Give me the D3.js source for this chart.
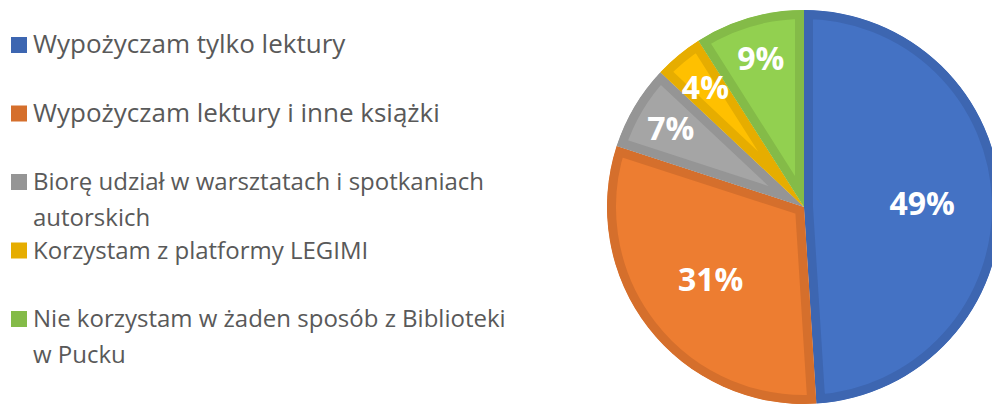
<!DOCTYPE html>
<html>
<head>
<meta charset="utf-8">
<script src="https://cdn.jsdelivr.net/npm/d3@7"></script>
<style>
  body { margin: 0; background: #fff; }
  svg { display: block; }
</style>
</head>
<body>
<script>
// Chart data
var categories = [
  "Wypożyczam tylko lektury",
  "Wypożyczam lektury i inne książki",
  "Biorę udział w warsztatach i spotkaniach autorskich",
  "Korzystam z platformy LEGIMI",
  "Nie korzystam w żaden sposób z Biblioteki w Pucku"
];
var values = [49, 31, 7, 4, 9];
var fillColors = ["#4472C4", "#ED7D31", "#A5A5A5", "#FFC000", "#92D050"];
var borderColors = ["#3D66B1", "#D56F2C", "#959595", "#E6AD00", "#84BB48"];

var svgWidth = 992;
var svgHeight = 405;

var svg = d3.select("body")
  .append("svg")
  .attr("width", svgWidth)
  .attr("height", svgHeight);

var data = categories.map(function(c, i) {
  return { name: c, value: values[i], fill: fillColors[i], border: borderColors[i] };
});

// Pie
var cx = 804, cy = 207, radius = 197;
var borderWidth = 9;

var pie = d3.pie()
  .sort(null)
  .value(d => d.value);

var arc = d3.arc()
  .innerRadius(0)
  .outerRadius(radius);

var arcs = pie(data);

// each slice gets its own clip so the border only shows on the inside
var defs = svg.append("defs");
defs.selectAll("clipPath")
  .data(arcs)
  .enter()
  .append("clipPath")
  .attr("id", (d, i) => "clip" + i)
  .append("path")
  .attr("d", arc);

var pieGroup = svg.append("g")
  .attr("transform", `translate(${cx}, ${cy})`);

pieGroup.selectAll("path.slice")
  .data(arcs)
  .enter()
  .append("path")
  .classed("slice", true)
  .attr("d", arc)
  .attr("fill", d => d.data.fill)
  .attr("stroke", d => d.data.border)
  .attr("stroke-width", borderWidth * 2)
  .attr("clip-path", (d, i) => `url(#clip${i})`);

// percent labels
pieGroup.selectAll("text.pct")
  .data(arcs)
  .enter()
  .append("text")
  .classed("pct", true)
  .attr("transform", function(d) {
    var a = (d.startAngle + d.endAngle) / 2;
    var r = radius * (d.data.value < 10 ? 0.785 : 0.6);
    return `translate(${Math.sin(a) * r}, ${-Math.cos(a) * r})`;
  })
  .attr("text-anchor", "middle")
  .attr("dy", "0.36em")
  .attr("fill", "#fff")
  .attr("font-family", "'Open Sans', sans-serif")
  .attr("font-weight", "bold")
  .attr("font-size", "32px")
  .text(d => d.data.value + "%");

// Legend
var legend = svg.append("g");
var legendX = 11, firstBaseline = 53, entryStep = 68.5, lineStep = 36;
var maxTextWidth = 488;

var items = legend.selectAll("g.item")
  .data(data)
  .enter()
  .append("g")
  .classed("item", true)
  .attr("transform", (d, i) => `translate(${legendX}, ${firstBaseline + i * entryStep})`);

items.append("rect")
  .attr("x", 0)
  .attr("y", -16)
  .attr("width", 16)
  .attr("height", 16)
  .attr("fill", d => d.border);

// the first two entries are set a little larger in the original
items.append("text")
  .attr("x", 22)
  .attr("y", 0)
  .attr("fill", "#595959")
  .attr("font-family", "'Open Sans', sans-serif")
  .attr("font-size", (d, i) => i < 2 ? "26px" : "24px")
  .each(function(d) {
    var text = d3.select(this);
    var words = d.name.split(" ");
    var line = [];
    var lineNo = 0;
    var tspan = text.append("tspan").attr("x", 22).attr("y", 0);
    words.forEach(function(w) {
      line.push(w);
      tspan.text(line.join(" "));
      if (tspan.node().getComputedTextLength() > maxTextWidth && line.length > 1) {
        line.pop();
        tspan.text(line.join(" "));
        line = [w];
        lineNo++;
        tspan = text.append("tspan").attr("x", 22).attr("y", lineNo * lineStep).text(w);
      }
    });
  });
</script>
</body>
</html>
